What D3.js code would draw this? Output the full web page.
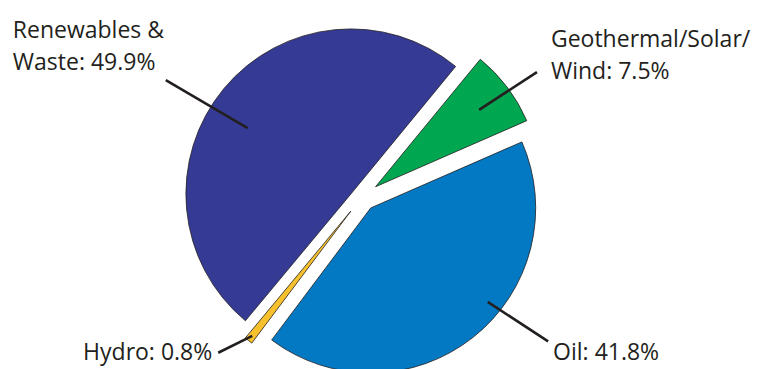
<!DOCTYPE html>
<html>
<head>
<meta charset="utf-8">
<script src="https://cdn.jsdelivr.net/npm/d3@7"></script>
<style>
  body { margin: 0; background: #fff; }
  svg { display: block; }
</style>
</head>
<body>
<div id="chart"></div>
<script>
// data (clockwise from the gap between Renewables and Geothermal)
const categories = ['Geothermal/Solar/Wind', 'Oil', 'Hydro', 'Renewables & Waste'];
const shares = [7.5, 41.8, 0.8, 49.9];
const labelNames = [['Geothermal/Solar/', 'Wind:'], ['Oil:'], ['Hydro:'], ['Renewables &', 'Waste:']];
const colors = ['#00a650', '#0479c3', '#f7c12e', '#353b95'];

// layout
const W = 757, H = 369;
const cx = 362, cy = 197, R = 165;
const startDeg = 39.4;
const explode = [17, 14, 18, 10.5];   // pulled out along the slice middle
const slide = [0, 0, 0, -4.7];        // small sideways nudge
// leader: angle offset from slice middle (deg) and radius, inner and outer end
const leaders = [
  { a1: 0.5, r1: 129, a2: 1.7, r2: 198 },
  { a1: -12.9, r1: 150, a2: -14.7, r2: 222 },
  { a1: 0, r1: 159, a2: 4.8, r2: 194 },
  { a1: -7.1, r1: 122.4, a2: -8.0, r2: 217.3 }
];
// label placement relative to the outer end of the leader
const labelPos = [
  { dx: 14, dy: -25, anchor: 'start' },
  { dx: 5, dy: 19, anchor: 'start' },
  { dx: -6, dy: 7, anchor: 'end' },
  { dx: -153, dy: -42, anchor: 'start' }
];
const lineGap = 32;
const ink = '#231f20';

const rad = d => d * Math.PI / 180;

const svg = d3.select('#chart').append('svg')
  .attr('width', W)
  .attr('height', H);

const pie = d3.pie()
  .sort(null)
  .value(d => d)
  .startAngle(rad(startDeg))
  .endAngle(rad(startDeg + 360));

const arcs = pie(shares);
const arc = d3.arc().innerRadius(0).outerRadius(R);

const slices = svg.selectAll('g.slice')
  .data(arcs)
  .enter()
  .append('g')
  .attr('class', 'slice')
  .attr('transform', function (d, i) {
    let mid = (d.startAngle + d.endAngle) / 2;
    let p = d3.pointRadial(mid, explode[i]);
    let s = d3.pointRadial(mid + Math.PI / 2, slide[i]);
    return 'translate(' + (cx + p[0] + s[0]) + ',' + (cy + p[1] + s[1]) + ')';
  });

slices.append('path')
  .attr('d', arc)
  .attr('fill', (d, i) => colors[i])
  .attr('stroke', ink)
  .attr('stroke-width', 0.8)
  .attr('stroke-linejoin', 'miter');

// leader lines
slices.append('line')
  .each(function (d, i) {
    let mid = (d.startAngle + d.endAngle) / 2;
    let l = leaders[i];
    let p1 = d3.pointRadial(mid + rad(l.a1), l.r1);
    let p2 = d3.pointRadial(mid + rad(l.a2), l.r2);
    d3.select(this)
      .attr('x1', p1[0]).attr('y1', p1[1])
      .attr('x2', p2[0]).attr('y2', p2[1]);
  })
  .attr('stroke', ink)
  .attr('stroke-width', 2.6);

// labels
slices.append('text')
  .each(function (d, i) {
    let mid = (d.startAngle + d.endAngle) / 2;
    let l = leaders[i];
    let p2 = d3.pointRadial(mid + rad(l.a2), l.r2);
    let pos = labelPos[i];
    let lines = labelNames[i].slice();
    lines[lines.length - 1] = lines[lines.length - 1] + ' ' + d.data.toFixed(1) + '%';
    let t = d3.select(this)
      .attr('text-anchor', pos.anchor)
      .attr('font-family', '"Open Sans", sans-serif')
      .attr('font-size', 23)
      .attr('fill', ink);
    lines.forEach(function (s, k) {
      t.append('tspan')
        .attr('x', p2[0] + pos.dx)
        .attr('y', p2[1] + pos.dy + k * lineGap)
        .text(s);
    });
  });
</script>
</body>
</html>
